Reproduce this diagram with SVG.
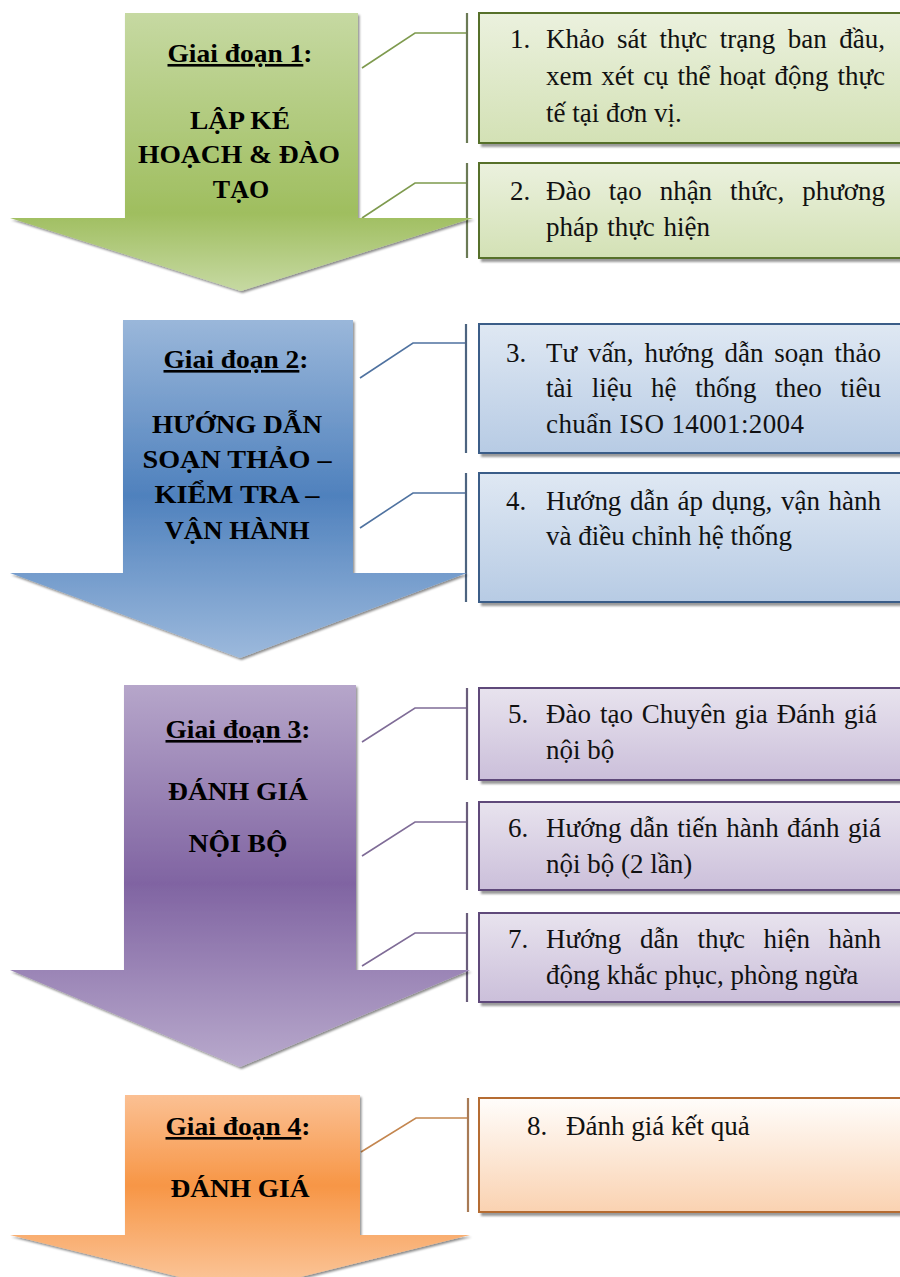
<svg xmlns="http://www.w3.org/2000/svg" width="900" height="1277" viewBox="0 0 900 1277">
  <defs>
    <style>
      .stage { font-family: "Liberation Serif", "Times New Roman", serif; font-weight: bold; font-size: 26px; fill: #000; text-anchor: middle; }
      .item { font-family: "Liberation Serif", "Times New Roman", serif; font-size: 27px; fill: #111; }
      .box { stroke-width: 2; }
      .lead { fill: none; stroke-width: 1.6; }
      .bracket { fill: none; stroke-width: 2.2; }
    </style>
    <filter id="shadow" x="-5%" y="-5%" width="115%" height="115%">
      <feDropShadow dx="1.5" dy="2" stdDeviation="1" flood-color="#000" flood-opacity="0.45"/>
    </filter>
    <filter id="boxShadow" x="-5%" y="-5%" width="115%" height="120%">
      <feDropShadow dx="3" dy="3" stdDeviation="1.2" flood-color="#000" flood-opacity="0.4"/>
    </filter>

    <!-- arrow fills: light / saturated / light -->
    <linearGradient id="gGreen" gradientUnits="userSpaceOnUse" x1="0" y1="13" x2="0" y2="291">
      <stop offset="0" stop-color="#c6d9a2"/>
      <stop offset="0.72" stop-color="#9fbe5f"/>
      <stop offset="1" stop-color="#c6d9a2"/>
    </linearGradient>
    <linearGradient id="gBlue" gradientUnits="userSpaceOnUse" x1="0" y1="320" x2="0" y2="658">
      <stop offset="0" stop-color="#9ab7da"/>
      <stop offset="0.52" stop-color="#4f81bd"/>
      <stop offset="1" stop-color="#9cb9dc"/>
    </linearGradient>
    <linearGradient id="gPurple" gradientUnits="userSpaceOnUse" x1="0" y1="685" x2="0" y2="1067">
      <stop offset="0" stop-color="#b6a6ca"/>
      <stop offset="0.52" stop-color="#8064a2"/>
      <stop offset="1" stop-color="#b8a9cc"/>
    </linearGradient>
    <linearGradient id="gOrange" gradientUnits="userSpaceOnUse" x1="0" y1="1095" x2="0" y2="1292">
      <stop offset="0" stop-color="#fbc093"/>
      <stop offset="0.46" stop-color="#f79646"/>
      <stop offset="1" stop-color="#fbc9a0"/>
    </linearGradient>

    <!-- box fills -->
    <linearGradient id="bGreen" x1="0" y1="0" x2="0" y2="1">
      <stop offset="0" stop-color="#ebf1de"/>
      <stop offset="1" stop-color="#d3e1b5"/>
    </linearGradient>
    <linearGradient id="bBlue" x1="0" y1="0" x2="0" y2="1">
      <stop offset="0" stop-color="#dfe8f3"/>
      <stop offset="1" stop-color="#b7cbe4"/>
    </linearGradient>
    <linearGradient id="bPurple" x1="0" y1="0" x2="0" y2="1">
      <stop offset="0" stop-color="#e8e3ee"/>
      <stop offset="1" stop-color="#cbbfda"/>
    </linearGradient>
    <linearGradient id="bOrange" x1="0" y1="0" x2="0" y2="1">
      <stop offset="0" stop-color="#fffdfb"/>
      <stop offset="1" stop-color="#fad2b1"/>
    </linearGradient>
  </defs>

  <rect width="900" height="1277" fill="#fff"/>

  <!-- leader lines and brackets -->
  <g id="connectors">
    <g stroke="#7e9a4e">
      <polyline class="lead" points="362,68 415,33 467,33"/>
      <polyline class="lead" points="362,218 415,183 467,183"/>
    </g>
    <g stroke="#6b7a55">
      <line class="bracket" x1="467" y1="13" x2="467" y2="143"/>
      <line class="bracket" x1="467" y1="163" x2="467" y2="258"/>
    </g>
    <g stroke="#4f72a0">
      <polyline class="lead" points="360,378 413,343 466,343"/>
      <polyline class="lead" points="360,528 413,493 466,493"/>
    </g>
    <g stroke="#4d6480">
      <line class="bracket" x1="466" y1="324" x2="466" y2="453"/>
      <line class="bracket" x1="466" y1="473" x2="466" y2="602"/>
    </g>
    <g stroke="#7f6c97">
      <polyline class="lead" points="362,742 415,708 467,708"/>
      <polyline class="lead" points="362,856 415,822 467,822"/>
      <polyline class="lead" points="362,966 415,933 467,933"/>
    </g>
    <g stroke="#6a5d7c">
      <line class="bracket" x1="467" y1="688" x2="467" y2="780"/>
      <line class="bracket" x1="467" y1="802" x2="467" y2="890"/>
      <line class="bracket" x1="467" y1="913" x2="467" y2="1002"/>
    </g>
    <g stroke="#c4864f">
      <polyline class="lead" points="361,1152 416,1118 468,1118"/>
    </g>
    <g stroke="#a87a55">
      <line class="bracket" x1="468" y1="1098" x2="468" y2="1212"/>
    </g>
  </g>

  <!-- stage 1 -->
  <g id="stage1">
    <path d="M125,13 H358 V218 H473 L241,291 L10,218 H125 Z" fill="url(#gGreen)" filter="url(#shadow)"/>
    <text class="stage" x="240" y="62" textLength="145" lengthAdjust="spacingAndGlyphs"><tspan text-decoration="underline">Giai đoạn 1</tspan>:</text>
    <text class="stage" x="240" y="129" textLength="100" lengthAdjust="spacingAndGlyphs">LẬP  KÉ</text>
    <text class="stage" x="239" y="163" textLength="202" lengthAdjust="spacingAndGlyphs">HOẠCH  &amp; ĐÀO</text>
    <text class="stage" x="241" y="198">TẠO</text>
  </g>

  <!-- stage 2 -->
  <g id="stage2">
    <path d="M123,320 H353 V573 H467 L240,658 L10,573 H123 Z" fill="url(#gBlue)" filter="url(#shadow)"/>
    <text class="stage" x="236" y="368" textLength="145" lengthAdjust="spacingAndGlyphs"><tspan text-decoration="underline">Giai đoạn 2</tspan>:</text>
    <text class="stage" x="237" y="433" textLength="170" lengthAdjust="spacingAndGlyphs">HƯỚNG DẪN</text>
    <text class="stage" x="237" y="468" textLength="189" lengthAdjust="spacingAndGlyphs">SOẠN  THẢO  –</text>
    <text class="stage" x="237" y="503" textLength="165" lengthAdjust="spacingAndGlyphs">KIỂM  TRA  –</text>
    <text class="stage" x="237" y="539" textLength="145" lengthAdjust="spacingAndGlyphs">VẬN  HÀNH</text>
  </g>

  <!-- stage 3 -->
  <g id="stage3">
    <path d="M124,685 H356 V970 H470 L240,1067 L10,970 H124 Z" fill="url(#gPurple)" filter="url(#shadow)"/>
    <text class="stage" x="238" y="738" textLength="145" lengthAdjust="spacingAndGlyphs"><tspan text-decoration="underline">Giai đoạn 3</tspan>:</text>
    <text class="stage" x="238" y="800" textLength="140" lengthAdjust="spacingAndGlyphs">ĐÁNH  GIÁ</text>
    <text class="stage" x="238" y="852" textLength="99" lengthAdjust="spacingAndGlyphs">NỘI BỘ</text>
  </g>

  <!-- stage 4 -->
  <g id="stage4">
    <path d="M125,1095 H360 V1235 H470 L240,1292 L10,1235 H125 Z" fill="url(#gOrange)" filter="url(#shadow)"/>
    <text class="stage" x="238" y="1135" textLength="145" lengthAdjust="spacingAndGlyphs"><tspan text-decoration="underline">Giai đoạn 4</tspan>:</text>
    <text class="stage" x="240" y="1197" textLength="139" lengthAdjust="spacingAndGlyphs">ĐÁNH  GIÁ</text>
  </g>

  <!-- task boxes; justified lines widen the word gaps -->
  <g id="task1">
    <rect class="box" x="479" y="13" width="440" height="130" fill="url(#bGreen)" stroke="#56702c" filter="url(#boxShadow)"/>
    <text class="item" x="510" y="48">1.</text>
    <text class="item" x="546" y="48" word-spacing="5.8" textLength="339" lengthAdjust="spacing">Khảo sát thực trạng ban đầu,</text>
    <text class="item" x="546" y="85" word-spacing="2.1" textLength="339" lengthAdjust="spacing">xem xét cụ thể hoạt động thực</text>
    <text class="item" x="546" y="122">tế tại đơn vị.</text>
  </g>
  <g id="task2">
    <rect class="box" x="479" y="163" width="440" height="95" fill="url(#bGreen)" stroke="#56702c" filter="url(#boxShadow)"/>
    <text class="item" x="510" y="200">2.</text>
    <text class="item" x="546" y="200" word-spacing="11.2" textLength="339" lengthAdjust="spacing">Đào tạo nhận thức, phương</text>
    <text class="item" x="546" y="236" word-spacing="2">pháp  thực hiện</text>
  </g>
  <g id="task3">
    <rect class="box" x="479" y="324" width="440" height="129" fill="url(#bBlue)" stroke="#3a5d88" filter="url(#boxShadow)"/>
    <text class="item" x="506" y="362">3.</text>
    <text class="item" x="546" y="362" word-spacing="4.1" textLength="335" lengthAdjust="spacing">Tư vấn, hướng dẫn soạn thảo</text>
    <text class="item" x="546" y="397" word-spacing="12" textLength="335" lengthAdjust="spacing">tài liệu hệ thống theo tiêu</text>
    <text class="item" x="546" y="433" textLength="258" lengthAdjust="spacing">chuẩn ISO 14001:2004</text>
  </g>
  <g id="task4">
    <rect class="box" x="479" y="473" width="440" height="129" fill="url(#bBlue)" stroke="#3a5d88" filter="url(#boxShadow)"/>
    <text class="item" x="506" y="510">4.</text>
    <text class="item" x="546" y="510" word-spacing="1.9" textLength="335" lengthAdjust="spacing">Hướng dẫn áp dụng, vận hành</text>
    <text class="item" x="546" y="545">và điều chỉnh hệ thống</text>
  </g>
  <g id="task5">
    <rect class="box" x="479" y="688" width="440" height="92" fill="url(#bPurple)" stroke="#5e4a7a" filter="url(#boxShadow)"/>
    <text class="item" x="508" y="723">5.</text>
    <text class="item" x="546" y="723" word-spacing="2.2" textLength="331" lengthAdjust="spacing">Đào tạo Chuyên gia Đánh giá</text>
    <text class="item" x="546" y="759">nội bộ</text>
  </g>
  <g id="task6">
    <rect class="box" x="479" y="802" width="440" height="88" fill="url(#bPurple)" stroke="#5e4a7a" filter="url(#boxShadow)"/>
    <text class="item" x="508" y="837">6.</text>
    <text class="item" x="546" y="837" word-spacing="1.7" textLength="335" lengthAdjust="spacing">Hướng dẫn tiến hành đánh giá</text>
    <text class="item" x="546" y="873">nội bộ (2 lần)</text>
  </g>
  <g id="task7">
    <rect class="box" x="479" y="913" width="440" height="89" fill="url(#bPurple)" stroke="#5e4a7a" filter="url(#boxShadow)"/>
    <text class="item" x="508" y="948">7.</text>
    <text class="item" x="546" y="948" word-spacing="11.9" textLength="335" lengthAdjust="spacing">Hướng dẫn thực hiện hành</text>
    <text class="item" x="546" y="984">động khắc phục, phòng ngừa</text>
  </g>
  <g id="task8">
    <rect class="box" x="479" y="1098" width="440" height="114" fill="url(#bOrange)" stroke="#b56c30" filter="url(#boxShadow)"/>
    <text class="item" x="527" y="1135">8.</text>
    <text class="item" x="566" y="1135">Đánh  giá kết quả</text>
  </g>
</svg>
